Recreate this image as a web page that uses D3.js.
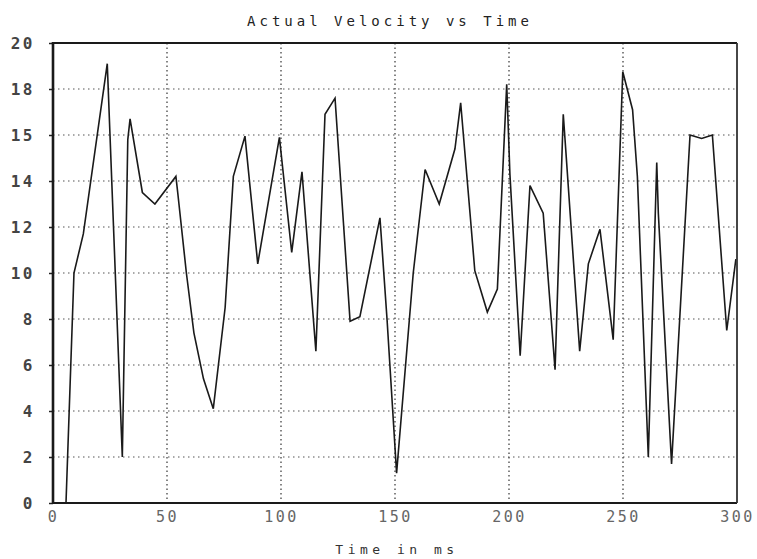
<!DOCTYPE html>
<html>
<head>
<meta charset="utf-8">
<script src="https://cdn.jsdelivr.net/npm/d3@7"></script>
<style>
  html, body { margin: 0; padding: 0; background: #fff; }
  svg { display: block; }
</style>
</head>
<body>
<svg id="chart" width="757" height="559"></svg>
<script>
// ---- data ----
const timeMs = [0, 5.7, 9.2, 13.3, 23.8, 30.4, 32.8, 33.8, 39.2, 44.7, 53.9, 54.7, 58.5, 61.8, 66.0, 70.3,
  75.5, 79.1, 84.2, 89.8, 99.3, 104.7, 109.2, 115.3, 119.3, 123.7, 130.3, 134.6, 143.4, 146.5, 150.7,
  158.0, 163.2, 169.4, 176.3, 178.8, 182.9, 185.0, 190.5, 194.9, 199.0, 200.4, 204.9, 209.2, 215.0,
  220.2, 223.8, 225.0, 231.0, 234.8, 239.9, 245.7, 249.9, 254.2, 256.3, 261.1, 264.8, 265.5, 271.3,
  279.4, 284.5, 289.2, 295.5, 299.5];
const velocity = [0, 0, 10.0, 11.7, 19.1, 2.0, 15.8, 16.7, 13.5, 13.0, 14.2, 13.5, 10.0, 7.4, 5.4, 4.1,
  8.5, 14.2, 15.95, 10.4, 15.9, 10.9, 14.4, 6.6, 16.9, 17.6, 7.9, 8.1, 12.4, 8.0, 1.3,
  10.0, 14.5, 13.0, 15.4, 17.4, 12.6, 10.1, 8.3, 9.3, 18.2, 14.3, 6.4, 13.8, 12.6,
  5.8, 16.9, 15.2, 6.6, 10.4, 11.9, 7.1, 18.75, 17.1, 14.2, 2.0, 14.8, 12.6, 1.7,
  16.0, 15.85, 16.0, 7.5, 10.6];
const xTicks = [0, 50, 100, 150, 200, 250, 300];
const yTicks = [0, 2, 4, 6, 8, 10, 12, 14, 16, 18, 20];
const yTickLabels = ["0", "2", "4", "6", "8", "10", "12", "14", "15", "18", "20"];
const titleText = "Actual Velocity vs Time";
const xLabelText = "Time in ms";

// ---- layout ----
const svg = d3.select("#chart");
const pLeft = 53, pRight = 737, pTop = 43, pBottom = 503;
const x = d3.scaleLinear().domain([0, 300]).range([pLeft, pRight]);
const y = d3.scaleLinear().domain([0, 20]).range([pBottom, pTop]);
const mono = "'DejaVu Sans Mono', 'Liberation Mono', monospace";

// grid
const grid = svg.append("g");
grid.selectAll("line.h").data(yTicks.slice(1, -1)).join("line")
  .attr("x1", pLeft).attr("x2", pRight)
  .attr("y1", d => y(d)).attr("y2", d => y(d))
  .attr("stroke", "#555").attr("stroke-width", 1.2)
  .attr("stroke-dasharray", "1.5,3.5");
grid.selectAll("line.v").data(xTicks.slice(1, -1)).join("line")
  .attr("y1", pTop).attr("y2", pBottom)
  .attr("x1", d => x(d)).attr("x2", d => x(d))
  .attr("stroke", "#444").attr("stroke-width", 1.3)
  .attr("stroke-dasharray", "1.5,3");

// data line
const pts = timeMs.map((t, i) => [t, velocity[i]]);
svg.append("path")
  .datum(pts)
  .attr("fill", "none")
  .attr("stroke", "#1a1a1a")
  .attr("stroke-width", 1.6)
  .attr("stroke-linejoin", "miter")
  .attr("d", d3.line().x(d => x(d[0])).y(d => y(d[1])));

// axes via d3
const yAxis = d3.axisLeft(y).tickValues(yTicks)
  .tickFormat((d, i) => yTickLabels[i]).tickSize(4).tickPadding(14);
const yg = svg.append("g").attr("transform", `translate(${pLeft},0)`).call(yAxis);
yg.select(".domain").remove();
yg.selectAll(".tick line").attr("stroke", "#222").attr("stroke-width", 1.5);
yg.selectAll(".tick text")
  .attr("font-family", mono).attr("font-size", 16).attr("font-weight", "bold")
  .attr("letter-spacing", 2.5).attr("fill", "#444");

const xAxis = d3.axisBottom(x).tickValues(xTicks).tickSize(0).tickPadding(8);
const xg = svg.append("g").attr("transform", `translate(0,${pBottom})`).call(xAxis);
xg.select(".domain").remove();
xg.selectAll(".tick text")
  .attr("font-family", mono).attr("font-size", 15)
  .attr("letter-spacing", 2.5).attr("fill", "#666");

// frame
svg.append("line").attr("x1", pLeft).attr("x2", pLeft).attr("y1", pTop - 1).attr("y2", pBottom + 1)
  .attr("stroke", "#1a1a1a").attr("stroke-width", 2.6);
svg.append("line").attr("x1", pLeft).attr("x2", pRight).attr("y1", pBottom).attr("y2", pBottom)
  .attr("stroke", "#1a1a1a").attr("stroke-width", 2.2);
svg.append("line").attr("x1", pLeft).attr("x2", pRight).attr("y1", pTop).attr("y2", pTop)
  .attr("stroke", "#1a1a1a").attr("stroke-width", 2.2);
svg.append("line").attr("x1", pRight).attr("x2", pRight).attr("y1", pTop).attr("y2", pBottom)
  .attr("stroke", "#333").attr("stroke-width", 1.8);

// title & axis label
svg.append("text").text(titleText)
  .attr("x", 390).attr("y", 26).attr("text-anchor", "middle")
  .attr("font-family", mono).attr("font-size", 14).attr("letter-spacing", 4)
  .attr("fill", "#222");
svg.append("text").text(xLabelText)
  .attr("x", 397).attr("y", 554).attr("text-anchor", "middle")
  .attr("font-family", mono).attr("font-size", 13).attr("letter-spacing", 4.5)
  .attr("fill", "#333");
</script>
</body>
</html>
